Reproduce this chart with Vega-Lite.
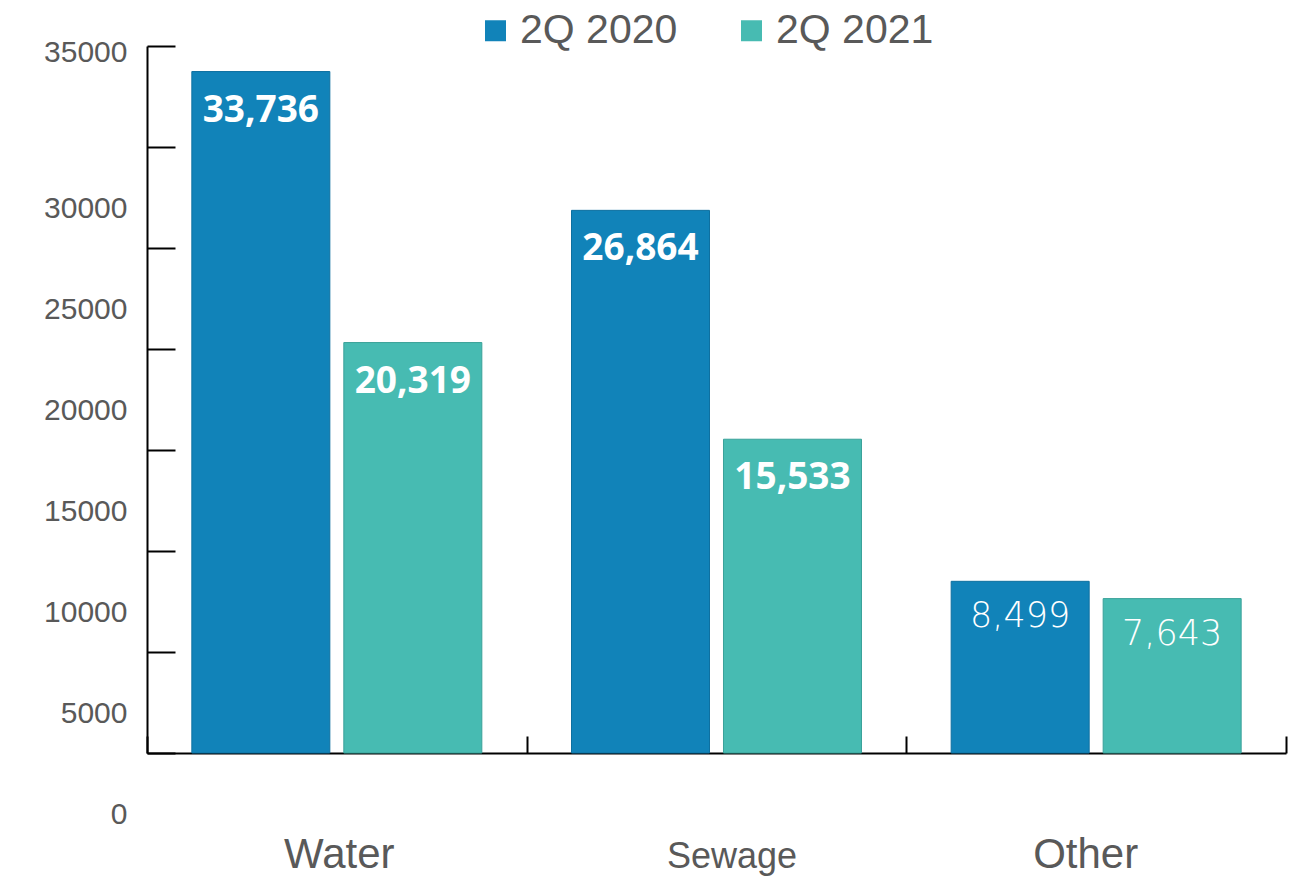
{
  "$schema": "https://vega.github.io/schema/vega-lite/v6.json",
  "width": 1139,
  "height": 707,
  "autosize": {"type": "none"},
  "padding": {"left": 147, "top": 46, "right": 20, "bottom": 124},
  "background": "white",
  "config": {"view": {"stroke": null}},
  "data": {
    "values": [
      {"category": "Water", "series": "2Q 2020", "value": 33736},
      {"category": "Water", "series": "2Q 2021", "value": 20319},
      {"category": "Sewage", "series": "2Q 2020", "value": 26864},
      {"category": "Sewage", "series": "2Q 2021", "value": 15533},
      {"category": "Other", "series": "2Q 2020", "value": 8499},
      {"category": "Other", "series": "2Q 2021", "value": 7643}
    ]
  },
  "encoding": {
    "x": {
      "field": "category",
      "type": "nominal",
      "sort": ["Water", "Sewage", "Other"],
      "scale": {"paddingInner": 0, "paddingOuter": 0},
      "axis": {
        "title": null,
        "tickBand": "extent",
        "tickSize": -17,
        "tickWidth": 2,
        "tickColor": "#000000",
        "domainColor": "#000000",
        "domainWidth": 2,
        "labelAngle": 0,
        "labelBaseline": "alphabetic",
        "labelPadding": 131,
        "labelFont": "Liberation Sans",
        "labelFontSize": {"condition": {"test": "datum.value == 'Sewage'", "value": 36}, "value": 42},
        "labelColor": "#595959",
        "labelOffset": {
          "condition": [
            {"test": "datum.value == 'Sewage'", "value": 15},
            {"test": "datum.value == 'Other'", "value": -11}
          ],
          "value": 2
        }
      }
    },
    "xOffset": {
      "field": "series",
      "type": "nominal",
      "scale": {"paddingInner": 0.092, "paddingOuter": 0.295}
    },
    "y": {
      "field": "value",
      "type": "quantitative",
      "scale": {"domain": [0, 35000], "nice": false},
      "axis": {
        "title": null,
        "values": [0, 5000, 10000, 15000, 20000, 25000, 30000, 35000],
        "format": "d",
        "grid": false,
        "domainColor": "#000000",
        "domainWidth": 2,
        "tickColor": "#000000",
        "tickWidth": 2,
        "tickSize": -28,
        "labelPadding": 48,
        "labelFont": "Liberation Sans",
        "labelFontSize": 30,
        "labelColor": "#595959",
        "labelOverlap": false,
        "labelFlush": false,
        "labelBound": false,
        "labelOffset": {"condition": {"test": "datum.value == 35000", "value": 6}, "value": 61}
      }
    }
  },
  "layer": [
    {
      "mark": {"type": "bar", "strokeWidth": 1},
      "encoding": {
        "color": {
          "field": "series",
          "type": "nominal",
          "scale": {"range": ["#1183B9", "#47BBB2"]},
          "legend": {
            "orient": "none",
            "legendX": 328,
            "legendY": -36,
            "direction": "horizontal",
            "title": null,
            "symbolType": "square",
            "symbolSize": 441,
            "symbolStrokeWidth": 0,
            "symbolOpacity": 1,
            "labelFont": "Liberation Sans",
            "labelFontSize": 41,
            "labelColor": "#595959",
            "labelOffset": 4,
            "columnPadding": 53,
            "padding": 0
          }
        },
        "stroke": {
          "field": "series",
          "type": "nominal",
          "scale": {"range": ["#0E70A0", "#3AA199"]},
          "legend": null
        }
      }
    },
    {
      "transform": [{"filter": "datum.category != 'Other'"}],
      "mark": {
        "type": "text",
        "font": "Open Sans",
        "fontWeight": "bold",
        "fontSize": 37,
        "color": "white",
        "baseline": "alphabetic",
        "dy": 50
      },
      "encoding": {"text": {"field": "value", "type": "quantitative", "format": ","}}
    },
    {
      "transform": [{"filter": "datum.category == 'Other'"}],
      "mark": {
        "type": "text",
        "font": "DejaVu Sans",
        "fontWeight": 300,
        "fontSize": 35,
        "color": "white",
        "baseline": "alphabetic",
        "dy": 46
      },
      "encoding": {"text": {"field": "value", "type": "quantitative", "format": ","}}
    }
  ]
}
